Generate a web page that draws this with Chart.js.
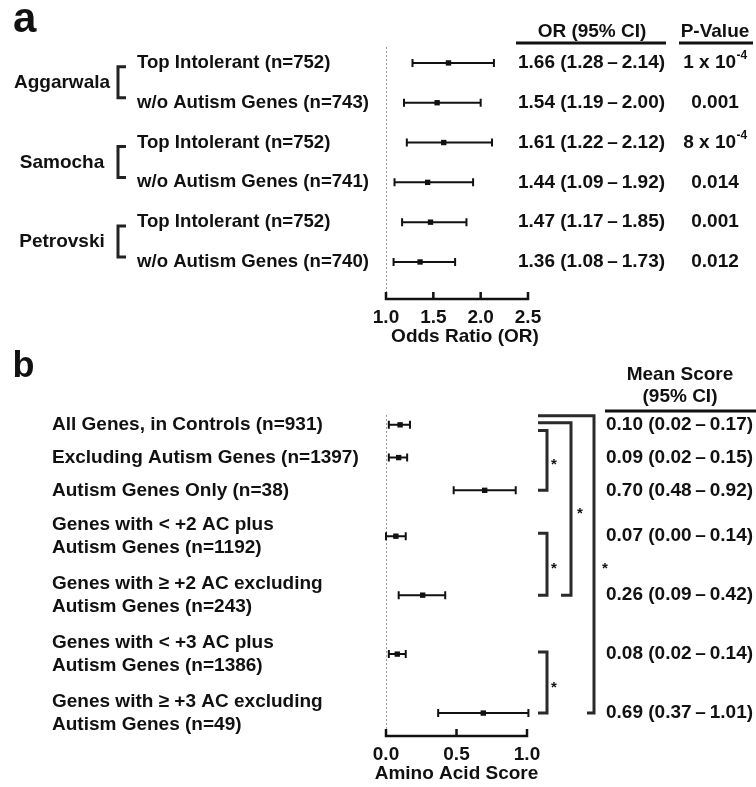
<!DOCTYPE html>
<html>
<head>
<meta charset="utf-8">
<script src="https://cdn.jsdelivr.net/npm/chart.js@4.4.0/dist/chart.umd.min.js"></script>
<style>
  html, body { margin: 0; padding: 0; background: #fff; }
  body { width: 756px; height: 787px; position: relative; overflow: hidden; }
  canvas { position: absolute; left: 0; }
</style>
</head>
<body>
<canvas id="panelA" width="756" height="360" style="top:0"></canvas>
<canvas id="panelB" width="756" height="447" style="top:340px"></canvas>
<script>
// panel a - odds ratios
var orGroups = ['Aggarwala', 'Samocha', 'Petrovski'];
var orLabels = ['Top Intolerant (n=752)', 'w/o Autism Genes (n=743)',
                'Top Intolerant (n=752)', 'w/o Autism Genes (n=741)',
                'Top Intolerant (n=752)', 'w/o Autism Genes (n=740)'];
var orMean = [1.66, 1.54, 1.61, 1.44, 1.47, 1.36];
var orLow  = [1.28, 1.19, 1.22, 1.09, 1.17, 1.08];
var orHigh = [2.14, 2.00, 2.12, 1.92, 1.85, 1.73];
var pBase = ['1 x 10', '0.001', '8 x 10', '0.014', '0.001', '0.012'];
var pExp  = ['-4', '', '-4', '', '', ''];
var orTicks = [1.0, 1.5, 2.0, 2.5];

// panel b - amino acid score
var aaLabels = [['All Genes, in Controls (n=931)'],
                ['Excluding Autism Genes (n=1397)'],
                ['Autism Genes Only (n=38)'],
                ['Genes with < +2 AC plus', 'Autism Genes (n=1192)'],
                ['Genes with \u2265 +2 AC excluding', 'Autism Genes (n=243)'],
                ['Genes with < +3 AC plus', 'Autism Genes (n=1386)'],
                ['Genes with \u2265 +3 AC excluding', 'Autism Genes (n=49)']];
var aaMean = [0.10, 0.09, 0.70, 0.07, 0.26, 0.08, 0.69];
var aaLow  = [0.02, 0.02, 0.48, 0.00, 0.09, 0.02, 0.37];
var aaHigh = [0.17, 0.15, 0.92, 0.14, 0.42, 0.14, 1.01];
var aaTicks = [0.0, 0.5, 1.0];
var aaSig = [[1, 2], [3, 4], [5, 6], [0, 4], [0, 6]];

// where the significance brackets sit (pixels)
var sigLayout = [
    {x: 547, dTop: -27, botFrom: 538, sdx: 7},
    {x: 547, dTop: -3, botFrom: 538, sdx: 7},
    {x: 547, dTop: -2, botFrom: 538, sdx: 7},
    {x: 571, dTop: -2, botFrom: 561, sdx: 9},
    {x: 594, dTop: -9, botFrom: 587, sdx: 11}
];

var FONT = '"Liberation Sans", Arial, Helvetica, sans-serif';
var INK = '#111';
Chart.defaults.font.family = FONT;

function bold(px) { return 'bold ' + px + 'px ' + FONT; }

function ciText(m, lo, hi) {
    return m.toFixed(2) + ' (' + lo.toFixed(2) + '\u2009\u2013\u2009' + hi.toFixed(2) + ')';
}

// dotted reference line + axis line with upward ticks + axis title
function drawAxis(chart, ticks, title, titleShift) {
    var ctx = chart.ctx, a = chart.chartArea, xs = chart.scales.x;
    var x0 = xs.getPixelForValue(ticks[0]);
    var x1 = xs.getPixelForValue(ticks[ticks.length - 1]);
    ctx.save();
    ctx.strokeStyle = '#9a9a9a';
    ctx.lineWidth = 1;
    ctx.setLineDash([2, 2]);
    ctx.beginPath();
    ctx.moveTo(x0 + 0.5, a.top);
    ctx.lineTo(x0 + 0.5, a.bottom);
    ctx.stroke();
    ctx.setLineDash([]);
    ctx.strokeStyle = INK;
    ctx.lineWidth = 2.5;
    ctx.beginPath();
    ctx.moveTo(x0 - 1.25, a.bottom);
    ctx.lineTo(x1 + 1.25, a.bottom);
    ticks.forEach(function (t) {
        var x = xs.getPixelForValue(t);
        ctx.moveTo(x, a.bottom - 7);
        ctx.lineTo(x, a.bottom + 1);
    });
    ctx.stroke();

    // title drawn by hand so it is not squeezed to the axis width
    ctx.fillStyle = INK;
    ctx.font = bold(19);
    ctx.textAlign = 'center';
    ctx.textBaseline = 'middle';
    ctx.fillText(title, (x0 + x1) / 2 + titleShift, a.bottom + 38);
    ctx.restore();
}

function drawWhiskers(chart, lows, highs) {
    var ctx = chart.ctx, xs = chart.scales.x;
    var meta = chart.getDatasetMeta(0);
    ctx.save();
    ctx.strokeStyle = INK;
    ctx.lineWidth = 2;
    meta.data.forEach(function (pt, i) {
        var y = pt.y;
        var x0 = xs.getPixelForValue(lows[i]);
        var x1 = xs.getPixelForValue(highs[i]);
        ctx.beginPath();
        ctx.moveTo(x0, y); ctx.lineTo(x1, y);
        ctx.moveTo(x0, y - 4); ctx.lineTo(x0, y + 4);
        ctx.moveTo(x1, y - 4); ctx.lineTo(x1, y + 4);
        ctx.stroke();
    });
    ctx.restore();
}

function underline(ctx, x0, x1, y) {
    ctx.save();
    ctx.strokeStyle = INK;
    ctx.lineWidth = 3;
    ctx.beginPath();
    ctx.moveTo(x0, y);
    ctx.lineTo(x1, y);
    ctx.stroke();
    ctx.restore();
}

function xScale(ticks, height) {
    return {
        type: 'linear',
        min: ticks[0],
        max: ticks[ticks.length - 1],
        grid: {display: false, drawTicks: false},
        border: {display: false},
        afterBuildTicks: function (s) { s.ticks = ticks.map(function (v) { return {value: v}; }); },
        afterFit: function (s) { s.height = height; },
        ticks: {
            color: INK,
            padding: 7.6,
            font: {size: 19, weight: 'bold'},
            callback: function (v) { return Number(v).toFixed(1); }
        },
        title: {display: false}
    };
}

// ---------- panel a ----------
var panelA = {
    id: 'panelA',
    beforeDatasetsDraw: function (chart) {
        drawAxis(chart, orTicks, 'Odds Ratio (OR)', 8);
        drawWhiskers(chart, orLow, orHigh);
    },
    afterDraw: function (chart) {
        var ctx = chart.ctx, ys = chart.scales.y;
        ctx.save();
        ctx.fillStyle = INK;

        ctx.font = bold(42);
        ctx.textBaseline = 'alphabetic';
        ctx.textAlign = 'left';
        ctx.fillText('a', 13, 32);

        ctx.textBaseline = 'middle';
        ctx.font = bold(19);

        // headers
        ctx.textAlign = 'center';
        ctx.fillText('OR (95% CI)', 592, 32);
        ctx.fillText('P-Value', 715, 32);
        underline(ctx, 516, 666, 43);
        underline(ctx, 679, 753, 43);

        orLabels.forEach(function (lab, i) {
            var y = ys.getPixelForValue(i);
            ctx.textAlign = 'left';
            ctx.font = bold(18.6);
            ctx.fillText(lab, 137, y);
            ctx.font = bold(19);
            ctx.fillText(ciText(orMean[i], orLow[i], orHigh[i]), 518, y);

            // p-value with superscript exponent
            var wb = ctx.measureText(pBase[i]).width;
            ctx.font = bold(12);
            var we = pExp[i] ? ctx.measureText(pExp[i]).width : 0;
            var sx = 715 - (wb + we) / 2;
            ctx.font = bold(19);
            ctx.fillText(pBase[i], sx, y);
            if (pExp[i]) {
                ctx.font = bold(12);
                ctx.fillText(pExp[i], sx + wb + 0.5, y - 7);
            }
        });

        // group names with brackets
        orGroups.forEach(function (g, k) {
            var mid = (ys.getPixelForValue(2 * k) + ys.getPixelForValue(2 * k + 1)) / 2;
            ctx.font = bold(19);
            ctx.textAlign = 'center';
            ctx.fillText(g, 62, mid);
            ctx.strokeStyle = '#222';
            ctx.lineWidth = 3;
            ctx.beginPath();
            ctx.moveTo(126, mid - 16);
            ctx.lineTo(118, mid - 16);
            ctx.lineTo(118, mid + 15);
            ctx.lineTo(126, mid + 15);
            ctx.stroke();
        });
        ctx.restore();
    }
};

new Chart(document.getElementById('panelA'), {
    type: 'scatter',
    data: {
        datasets: [{
            data: orMean.map(function (m, i) { return {x: m, y: i}; }),
            pointStyle: 'rect',
            pointRadius: 3.8,
            borderWidth: 0,
            backgroundColor: INK,
            clip: false
        }]
    },
    options: {
        responsive: false,
        animation: false,
        layout: {padding: {left: 386, right: 228, top: 47, bottom: 0}},
        plugins: {legend: {display: false}, tooltip: {enabled: false}},
        scales: {
            x: xScale(orTicks, 61),
            y: {type: 'linear', display: false, reverse: true, min: -0.4, max: 5.93}
        }
    },
    plugins: [panelA]
});

// ---------- panel b ----------
// rows with a two-line label get a taller slot
function slotCenters(labels) {
    var acc = 0;
    return labels.map(function (l) {
        var h = l.length > 1 ? 1.8 : 1;
        var c = acc + h / 2;
        acc += h;
        return c;
    });
}
var aaSlots = slotCenters(aaLabels);

var panelB = {
    id: 'panelB',
    beforeDatasetsDraw: function (chart) {
        drawAxis(chart, aaTicks, 'Amino Acid Score', 0);
        drawWhiskers(chart, aaLow, aaHigh);
    },
    afterDraw: function (chart) {
        var ctx = chart.ctx, ys = chart.scales.y;
        ctx.save();
        ctx.fillStyle = INK;

        ctx.font = bold(36);
        ctx.textBaseline = 'alphabetic';
        ctx.textAlign = 'left';
        ctx.fillText('b', 12.5, 37);

        ctx.textBaseline = 'middle';
        ctx.font = bold(19);
        ctx.textAlign = 'center';
        ctx.fillText('Mean Score', 680, 35);
        ctx.fillText('(95% CI)', 680, 57);
        underline(ctx, 605, 756, 71);

        aaLabels.forEach(function (lines, i) {
            var y = ys.getPixelForValue(aaSlots[i]);
            ctx.textAlign = 'left';
            ctx.font = bold(19);
            lines.forEach(function (t, j) {
                ctx.fillText(t, 52, y + (j - (lines.length - 1) / 2) * 23);
            });
            ctx.fillText(ciText(aaMean[i], aaLow[i], aaHigh[i]), 606, y);
        });

        // significance brackets
        ctx.strokeStyle = '#2a2a2a';
        ctx.lineWidth = 3;
        aaSig.forEach(function (pair, k) {
            var L = sigLayout[k];
            var yTop = ys.getPixelForValue(aaSlots[pair[0]]) + L.dTop;
            var yBot = ys.getPixelForValue(aaSlots[pair[1]]);
            ctx.beginPath();
            ctx.moveTo(538, yTop);
            ctx.lineTo(L.x, yTop);
            ctx.lineTo(L.x, yBot);
            ctx.lineTo(L.botFrom, yBot);
            ctx.stroke();
            ctx.font = bold(15);
            ctx.textAlign = 'center';
            ctx.textBaseline = 'alphabetic';
            ctx.fillText('*', L.x + L.sdx, (yTop + yBot) / 2 + 9);
            ctx.textBaseline = 'middle';
        });
        ctx.restore();
    }
};

new Chart(document.getElementById('panelB'), {
    type: 'scatter',
    data: {
        datasets: [{
            data: aaMean.map(function (m, i) { return {x: m, y: aaSlots[i]}; }),
            pointStyle: 'rect',
            pointRadius: 3.8,
            borderWidth: 0,
            backgroundColor: INK,
            clip: false
        }]
    },
    options: {
        responsive: false,
        animation: false,
        layout: {padding: {left: 386, right: 229, top: 75, bottom: 0}},
        plugins: {legend: {display: false}, tooltip: {enabled: false}},
        scales: {
            x: xScale(aaTicks, 51),
            y: {type: 'linear', display: false, reverse: true, min: 0.2, max: 10}
        }
    },
    plugins: [panelB]
});
</script>
</body>
</html>
